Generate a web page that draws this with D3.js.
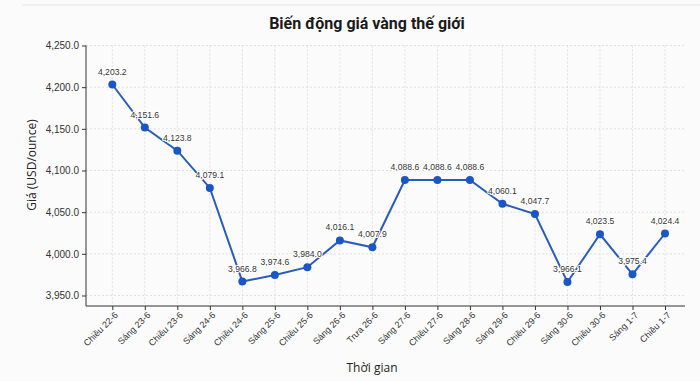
<!DOCTYPE html>
<html>
<head>
<meta charset="utf-8">
<script src="https://cdn.jsdelivr.net/npm/d3@7"></script>
<style>
  html, body { margin: 0; padding: 0; background: #fbfbfc; }
  svg { display: block; }
</style>
</head>
<body>
<svg id="chart" width="700" height="381"></svg>
<script>
const categories = ["Chiều 22-6","Sáng 23-6","Chiều 23-6","Sáng 24-6","Chiều 24-6","Sáng 25-6","Chiều 25-6","Sáng 26-6","Trưa 26-6","Sáng 27-6","Chiều 27-6","Sáng 28-6","Sáng 29-6","Chiều 29-6","Sáng 30-6","Chiều 30-6","Sáng 1-7","Chiều 1-7"];
const prices = [4203.2,4151.6,4123.8,4079.1,3966.8,3974.6,3984.0,4016.1,4007.9,4088.6,4088.6,4088.6,4060.1,4047.7,3966.1,4023.5,3975.4,4024.4];
const yTicks = [3950,4000,4050,4100,4150,4200,4250];
const title = "Biến động giá vàng thế giới";
const xTitle = "Thời gian";
const yTitle = "Giá (USD/ounce)";

const svg = d3.select("#chart");
const axisLeftX = 86, axisRightX = 685, axisTopY = 45.5, axisBottomY = 306;
const fmt = d3.format(",.1f");

const x = d3.scalePoint().domain(categories).range([112.3, 665]);
const y = d3.scaleLinear().domain([3937.4, 4250]).range([axisBottomY, axisTopY]);

// faint top border
svg.append("line").attr("x1", 22).attr("x2", 700).attr("y1", 5).attr("y2", 5)
  .attr("stroke", "#ececee").attr("stroke-width", 1.5);

// title
svg.append("text").attr("x", 367).attr("y", 29).attr("text-anchor", "middle")
  .attr("font-family", "Roboto, 'Noto Sans', sans-serif").attr("font-weight", "bold")
  .attr("font-size", 16).attr("fill", "#1a1a1a").text(title);

// grid
const grid = svg.append("g");
grid.selectAll("line.h").data(yTicks).enter().append("line")
  .attr("x1", axisLeftX).attr("x2", axisRightX)
  .attr("y1", d => y(d)).attr("y2", d => y(d))
  .attr("stroke", "#d9d9d9").attr("stroke-width", 0.8).attr("stroke-dasharray", "2,2");
grid.selectAll("line.v").data(categories).enter().append("line")
  .attr("x1", d => x(d)).attr("x2", d => x(d))
  .attr("y1", axisTopY).attr("y2", axisBottomY)
  .attr("stroke", "#d9d9d9").attr("stroke-width", 0.8).attr("stroke-dasharray", "2,2");

// y axis
const yAxis = svg.append("g").attr("transform", `translate(${axisLeftX},0)`)
  .call(d3.axisLeft(y).tickValues(yTicks).tickFormat(fmt).tickSize(4).tickPadding(3));
yAxis.select(".domain").attr("stroke", "#333").attr("d", `M0,${axisTopY}V${axisBottomY}`);
yAxis.selectAll(".tick line").attr("stroke", "#333");
yAxis.selectAll(".tick text").attr("font-family", "'Liberation Sans', Arial, sans-serif")
  .attr("font-size", 10).attr("fill", "#333");

// x axis
const xAxis = svg.append("g").attr("transform", `translate(0,${axisBottomY})`)
  .call(d3.axisBottom(x).tickSize(4).tickPadding(2));
xAxis.select(".domain").attr("stroke", "#333").attr("d", `M${axisLeftX},0H${axisRightX}`);
xAxis.selectAll(".tick line").attr("stroke", "#333");
xAxis.selectAll(".tick text")
  .attr("font-family", "'Liberation Sans', Arial, sans-serif").attr("font-size", 9).attr("fill", "#333")
  .attr("text-anchor", "end").attr("dy", null)
  .attr("transform", "translate(4,8) rotate(-45)")
  .attr("y", 0).attr("x", 0).attr("dominant-baseline", "middle");

// axis titles
svg.append("text").attr("x", 372).attr("y", 372).attr("text-anchor", "middle")
  .attr("font-family", "'Open Sans', 'Noto Sans', sans-serif").attr("font-size", 12).attr("fill", "#222")
  .text(xTitle);
svg.append("text").attr("transform", "translate(36,165) rotate(-90)").attr("text-anchor", "middle")
  .attr("font-family", "'Open Sans', 'Noto Sans', sans-serif").attr("font-size", 12).attr("fill", "#222")
  .text(yTitle);

// line
const line = d3.line().x((d, i) => x(categories[i])).y(d => y(d));
svg.append("path").datum(prices).attr("d", line)
  .attr("fill", "none").attr("stroke", "#2a5cbf").attr("stroke-width", 2);

// points
svg.selectAll("circle.pt").data(prices).enter().append("circle")
  .attr("cx", (d, i) => x(categories[i])).attr("cy", d => y(d)).attr("r", 4)
  .attr("fill", "#1a56c4");

// labels with light halo
svg.selectAll("text.lbl").data(prices).enter().append("text")
  .attr("x", (d, i) => x(categories[i])).attr("y", d => y(d) - 10)
  .attr("text-anchor", "middle")
  .attr("font-family", "'Liberation Sans', Arial, sans-serif").attr("font-size", 8.6).attr("fill", "#333")
  .attr("stroke", "#ffffff").attr("stroke-width", 2).attr("stroke-linejoin", "round")
  .attr("paint-order", "stroke")
  .text(d => fmt(d));
</script>
</body>
</html>
